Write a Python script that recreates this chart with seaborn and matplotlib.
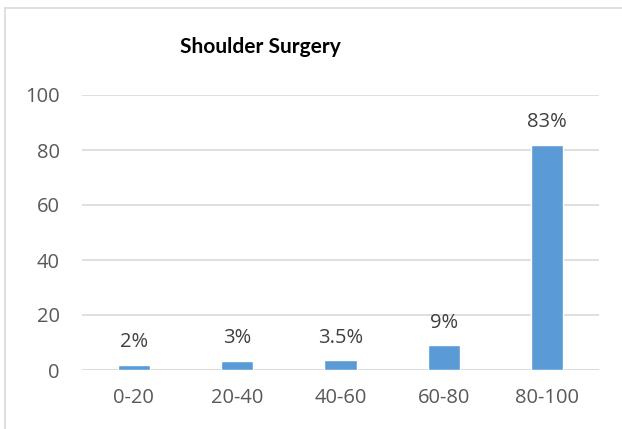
import matplotlib
matplotlib.use("Agg")
import matplotlib.pyplot as plt
import seaborn as sns
import pandas as pd
from matplotlib.patches import Rectangle

categories = ["0-20", "20-40", "40-60", "60-80", "80-100"]
values = [2, 3.3, 3.5, 9, 82]
labels = ["2%", "3%", "3.5%", "9%", "83%"]
yticks = [0, 20, 40, 60, 80, 100]

sns.set_theme(style="white")
plt.rcParams['font.family'] = ['Open Sans', 'DejaVu Sans']

df = pd.DataFrame({"cat": categories, "val": values})

W, H = 622, 429
fig = plt.figure(figsize=(W / 100, H / 100), dpi=100)
ax = fig.add_axes([82 / W, 1 - 370 / H, (599 - 82) / W, (370 - 95) / H])

sns.barplot(data=df, x="cat", y="val", color="#5B9BD5", width=0.31,
            saturation=1, ax=ax, zorder=3)

ax.set_ylim(0, 100)
ax.set_yticks(yticks)
ax.set_xlim(-0.5, len(categories) - 0.5)
ax.grid(axis="y", color="#D9D9D9", linewidth=1.2, zorder=0)
for s in ax.spines.values():
    s.set_visible(False)
ax.axhline(0, color="#D9D9D9", linewidth=1.2, zorder=1)
ax.set_xlabel("")
ax.set_ylabel("")
ax.tick_params(axis="both", length=0, labelsize=14.5, colors="#595959")
ax.tick_params(axis="y", pad=16)
ax.tick_params(axis="x", pad=13)

for i, (v, lab) in enumerate(zip(values, labels)):
    ax.annotate(lab, (i, v), xytext=(0, 9), textcoords="offset points",
                ha="center", va="bottom", fontsize=14.5, color="#404040")

fig.text(260 / W, 1 - 47 / H, "Shoulder Surgery", ha="center", va="center",
         fontsize=15, fontweight="bold", color="black", family=["Lato", "DejaVu Sans"])

fig.patches.append(Rectangle((5 / W, -0.1), 1.2, 1 - 8 / H + 0.1,
                             transform=fig.transFigure, fill=False,
                             edgecolor="#D9D9D9", linewidth=1.2))

fig.savefig("out.png", dpi=100)
